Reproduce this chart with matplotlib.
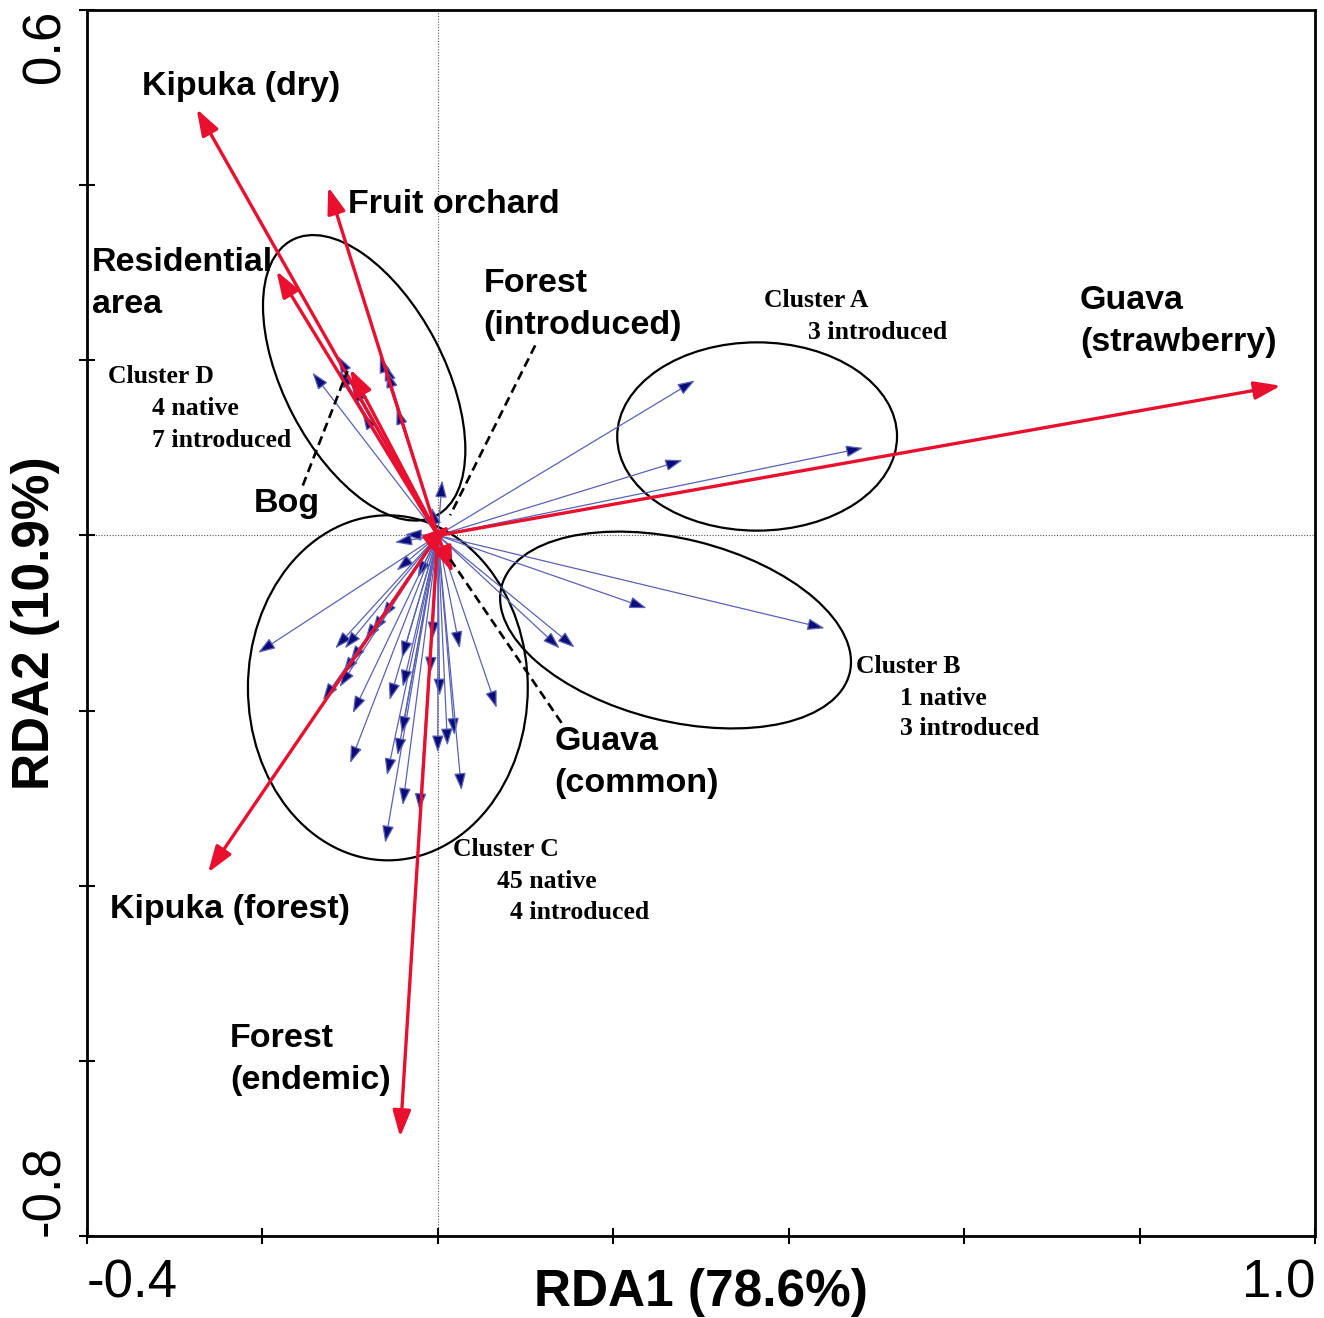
import matplotlib
matplotlib.use("Agg")
import matplotlib.pyplot as plt
from matplotlib.patches import Ellipse, FancyArrowPatch

# ---------------- data ----------------
env_names = ["Kipuka (dry)", "Fruit orchard", "Residential\narea", "Bog",
             "Forest\n(introduced)", "Guava\n(strawberry)", "Guava\n(common)",
             "Kipuka (forest)", "Forest\n(endemic)"]
env_x = [-0.275, -0.125, -0.184, -0.100, 0.014, 0.961, 0.017, -0.262, -0.043]
env_y = [0.487, 0.398, 0.302, 0.190, 0.011, 0.171, -0.043, -0.385, -0.687]
env_label_x = [-0.337, -0.103, -0.394, -0.210, 0.052, 0.732, 0.133, -0.374, -0.237]
env_label_y = [0.513, 0.378, 0.288, 0.036, 0.264, 0.244, -0.259, -0.427, -0.598]

# leader lines (label end -> arrow end) for labels placed away from arrows
leader_from_x = [-0.154, 0.111, 0.141]
leader_from_y = [0.057, 0.217, -0.214]
leader_to_x = [-0.103, 0.014, 0.014]
leader_to_y = [0.188, 0.023, -0.027]

# species scores
clusterA_x = [0.293, 0.279, 0.485]
clusterA_y = [0.177, 0.086, 0.100]
clusterB_x = [0.238, 0.441, 0.139, 0.156]
clusterB_y = [-0.083, -0.106, -0.129, -0.128]
clusterD_x = [-0.143, -0.114, -0.112, -0.098, -0.086, -0.066, -0.060, -0.058, -0.047, 0.005, -0.007]
clusterD_y = [0.186, 0.205, 0.188, 0.171, 0.140, 0.205, 0.196, 0.188, 0.146, 0.063, 0.032]
clusterC_x = [-0.038, -0.049, -0.047, -0.023, -0.205, -0.117, -0.106, -0.064, -0.075, -0.083,
              -0.100, -0.108, -0.112, -0.131, -0.097, -0.100, -0.058, -0.040, -0.060, -0.046,
              -0.055, -0.041, -0.040, -0.041, -0.021, -0.009, -0.006, 0.002, 0.000, 0.011,
              0.019, 0.027, 0.025, 0.067]
clusterC_y = [0.001, -0.008, -0.040, -0.048, -0.134, -0.129, -0.129, -0.095, -0.111, -0.120,
              -0.145, -0.158, -0.173, -0.188, -0.203, -0.260, -0.274, -0.308, -0.351, -0.251,
              -0.188, -0.226, -0.173, -0.140, -0.314, -0.158, -0.118, -0.183, -0.248, -0.240,
              -0.228, -0.291, -0.129, -0.197]

# cluster ellipses: centre, width, height, angle
ell_cx = [0.364, 0.271, -0.057, -0.084]
ell_cy = [0.113, -0.108, -0.174, 0.180]
ell_w = [0.319, 0.409, 0.319, 0.355]
ell_h = [0.215, 0.208, 0.394, 0.183]
ell_ang = [0, -14, 0, 117.5]

cluster_lines = [
    ["Cluster A", "3 introduced"],
    ["Cluster B", "1 native", "3 introduced"],
    ["Cluster C", "45 native", "4 introduced"],
    ["Cluster D", "4 native", "7 introduced"],
]
cluster_line_x = [[0.372, 0.422], [0.477, 0.527, 0.527], [0.017, 0.067, 0.082], [-0.376, -0.326, -0.326]]
cluster_line_y = [[0.268, 0.232], [-0.150, -0.186, -0.221], [-0.359, -0.395, -0.430], [0.181, 0.145, 0.108]]

xticks = [-0.4, -0.2, 0.0, 0.2, 0.4, 0.6, 0.8, 1.0]
xticklabels = ["-0.4", "", "", "", "", "", "", "1.0"]
yticks = [-0.8, -0.6, -0.4, -0.2, 0.0, 0.2, 0.4, 0.6]
yticklabels = ["-0.8", "", "", "", "", "", "", "0.6"]

# ---------------- figure ----------------
SANS = ["Liberation Sans", "DejaVu Sans"]
SERIF = ["Liberation Serif", "DejaVu Serif"]
RED = "#e8102e"
NAVY = "#0b0b7a"
SHAFT = "#5a62b4"

fig = plt.figure(figsize=(13.24, 13.18), dpi=100)
ax = fig.add_axes([0.0657, 0.0622, 0.9275, 0.9302])
ax.set_xlim(-0.4, 1.0)
ax.set_ylim(-0.8, 0.6)

ax.axhline(0, color="#555555", lw=0.8, ls=(0, (1, 1.5)), zorder=1)
ax.axvline(0, color="#555555", lw=0.8, ls=(0, (1, 1.5)), zorder=1)

for cx, cy, w, h, a in zip(ell_cx, ell_cy, ell_w, ell_h, ell_ang):
    ax.add_patch(Ellipse((cx, cy), w, h, angle=a, fill=False, ec="black", lw=1.6, zorder=2))

all_sx = clusterA_x + clusterB_x + clusterC_x + clusterD_x
all_sy = clusterA_y + clusterB_y + clusterC_y + clusterD_y
for sx, sy in zip(all_sx, all_sy):
    ax.add_patch(FancyArrowPatch((0, 0), (sx, sy),
                                 arrowstyle="-|>,head_length=10.5,head_width=3.6",
                                 mutation_scale=1, lw=0.9, ec=SHAFT, fc=NAVY,
                                 shrinkA=0, shrinkB=0, zorder=3))

for ex, ey in zip(env_x, env_y):
    ax.add_patch(FancyArrowPatch((0, 0), (ex, ey),
                                 arrowstyle="-|>,head_length=16,head_width=5.5",
                                 mutation_scale=1, lw=2.4, color=RED,
                                 shrinkA=0, shrinkB=0, zorder=4))

for x0, y0, x1, y1 in zip(leader_from_x, leader_from_y, leader_to_x, leader_to_y):
    ax.plot([x0, x1], [y0, y1], color="black", lw=1.9, ls=(0, (3.5, 2)), zorder=5)

for name, lx, ly in zip(env_names, env_label_x, env_label_y):
    ax.text(lx, ly, name, family=SANS, fontweight="bold", fontsize=24.5,
            ha="left", va="center", linespacing=1.45, zorder=6)

for lines, xs, ys in zip(cluster_lines, cluster_line_x, cluster_line_y):
    for t, lx, ly in zip(lines, xs, ys):
        ax.text(lx, ly, t, family=SERIF, fontweight="bold", fontsize=18.5,
                ha="left", va="center", zorder=6)

for s in ax.spines.values():
    s.set_linewidth(2)

ax.set_xticks(xticks, labels=xticklabels)
ax.set_yticks(yticks, labels=yticklabels)
ax.tick_params(direction="inout", length=12, width=1.5, labelsize=38)
ax.tick_params(axis="x", pad=10)
for lab in ax.get_xticklabels():
    lab.set_family(SANS)
for lab in ax.get_yticklabels():
    lab.set_family(SANS)
    lab.set_rotation(90)
    lab.set_ha("center")
xl = ax.get_xticklabels()
xl[0].set_ha("left")
xl[-1].set_ha("right")
yl = ax.get_yticklabels()
yl[0].set_va("bottom")
yl[-1].set_va("top")
ax.tick_params(axis="y", pad=24)

ax.set_xlabel("RDA1 (78.6%)", family=SANS, fontweight="bold", fontsize=37)
ax.set_ylabel("RDA2 (10.9%)", family=SANS, fontweight="bold", fontsize=37)
ax.xaxis.label.set_va("center")
ax.yaxis.label.set_va("center")
ax.yaxis.label.set_ha("center")
ax.xaxis.set_label_coords(0.5, -0.046)
ax.yaxis.set_label_coords(-0.042, 0.5)

fig.savefig("out.png", dpi=100)
